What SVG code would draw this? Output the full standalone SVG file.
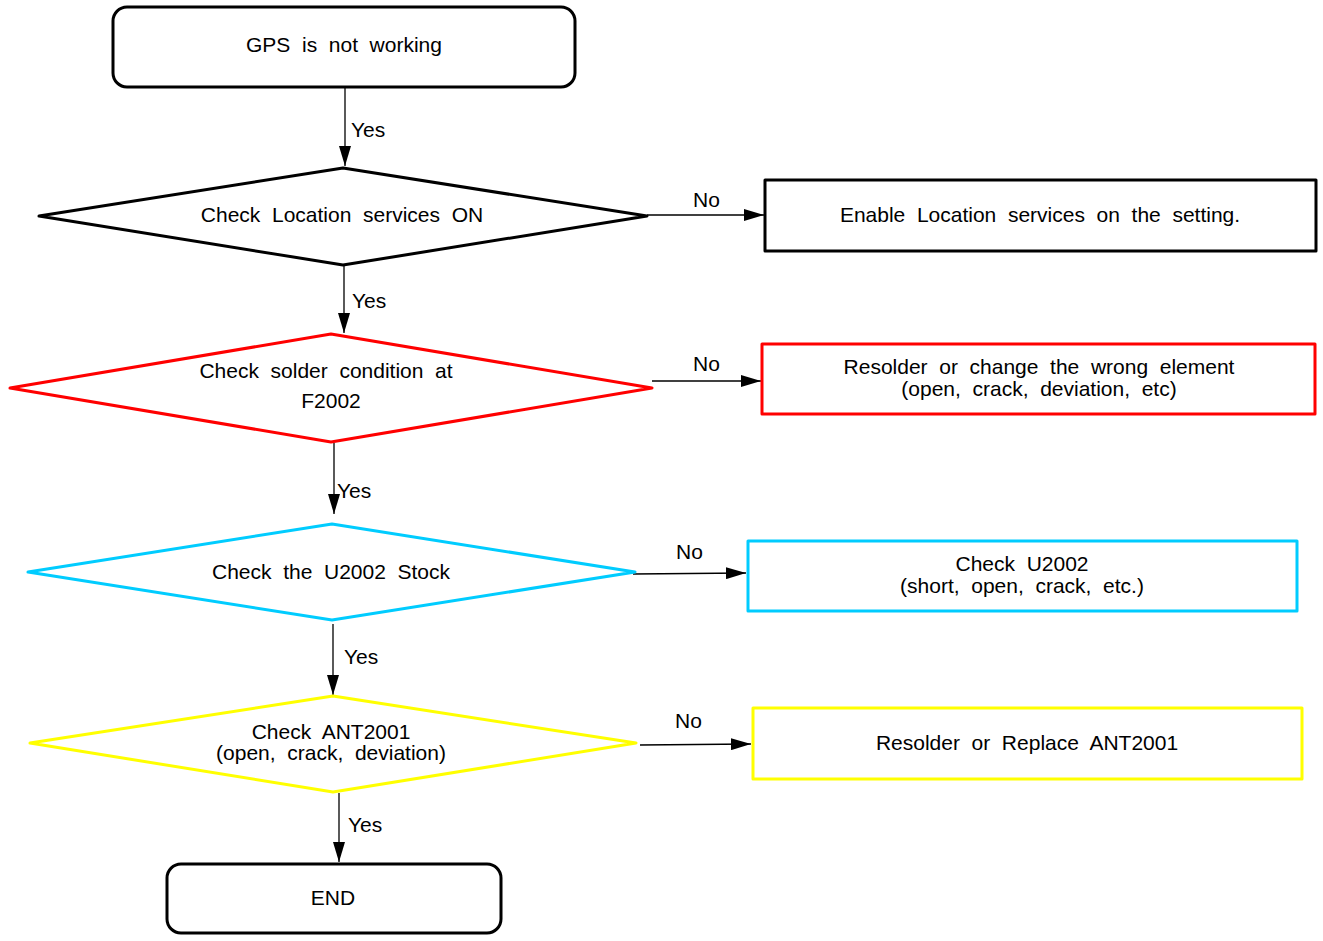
<svg xmlns="http://www.w3.org/2000/svg" width="1323" height="941" viewBox="0 0 1323 941">
<style>
text{font-family:"Liberation Sans",Arial,sans-serif;font-size:21px;fill:#000;word-spacing:5.8px}
.c{text-anchor:middle}
.shape{fill:#fff;stroke-width:3;stroke-linejoin:round}
.k{stroke:#000}.r{stroke:#ff0000}.b{stroke:#00ccff}.y{stroke:#ffff00}
.conn line{stroke:#000;stroke-width:1.3;marker-end:url(#ah)}
</style>
<defs>
<marker id="ah" markerUnits="userSpaceOnUse" markerWidth="21" markerHeight="12" refX="20" refY="6" orient="auto">
<path d="M0,0 L20,6 L0,12 z" fill="#000"/>
</marker>
</defs>
<rect width="1323" height="941" fill="#fff"/>
<g class="conn" id="connectors">
<line x1="345" y1="88" x2="345" y2="166"/>
<line x1="344" y1="266" x2="344" y2="333"/>
<line x1="334" y1="443" x2="334" y2="514"/>
<line x1="333" y1="624" x2="333" y2="695"/>
<line x1="339" y1="793" x2="339" y2="862"/>
<line x1="647" y1="215" x2="764" y2="215"/>
<line x1="652" y1="381" x2="761" y2="381"/>
<line x1="633" y1="574" x2="746" y2="573"/>
<line x1="640" y1="745" x2="751" y2="744"/>
<text x="351" y="137">Yes</text>
<text x="352" y="308">Yes</text>
<text x="337" y="498">Yes</text>
<text x="344" y="664">Yes</text>
<text x="348" y="832">Yes</text>
<text x="693" y="207">No</text>
<text x="693" y="371">No</text>
<text x="676" y="559">No</text>
<text x="675" y="728">No</text>
</g>
<g id="start">
<rect class="shape k" x="113" y="7" width="462" height="80" rx="14"/>
<text class="c" x="344" y="52">GPS is not working</text>
</g>
<g id="d1">
<polygon class="shape k" points="39,216 343,168 647,216 343,265"/>
<text class="c" x="342" y="222">Check Location services ON</text>
</g>
<g id="d2">
<polygon class="shape r" points="10,388 331,334 652,388 331,442"/>
<text class="c" x="326" y="378">Check solder condition at</text>
<text class="c" x="331" y="408">F2002</text>
</g>
<g id="d3">
<polygon class="shape b" points="28,572 332,524 635,572 332,620"/>
<text class="c" x="331" y="579">Check the U2002 Stock</text>
</g>
<g id="d4">
<polygon class="shape y" points="30,743 333,696 636,743 333,792"/>
<text class="c" x="331" y="739">Check ANT2001</text>
<text class="c" x="331" y="760">(open, crack, deviation)</text>
</g>
<g id="end">
<rect class="shape k" x="167" y="864" width="334" height="69" rx="14"/>
<text class="c" x="333" y="905">END</text>
</g>
<g id="b1">
<rect class="shape k" x="765" y="180" width="551" height="71"/>
<text class="c" x="1040" y="222">Enable Location services on the setting.</text>
</g>
<g id="b2">
<rect class="shape r" x="762" y="344" width="553" height="70"/>
<text class="c" x="1039" y="374">Resolder or change the wrong element</text>
<text class="c" x="1039" y="396">(open, crack, deviation, etc)</text>
</g>
<g id="b3">
<rect class="shape b" x="748" y="541" width="549" height="70"/>
<text class="c" x="1022" y="571">Check U2002</text>
<text class="c" x="1022" y="593">(short, open, crack, etc.)</text>
</g>
<g id="b4">
<rect class="shape y" x="753" y="708" width="549" height="71"/>
<text class="c" x="1027" y="750">Resolder or Replace ANT2001</text>
</g>
</svg>
